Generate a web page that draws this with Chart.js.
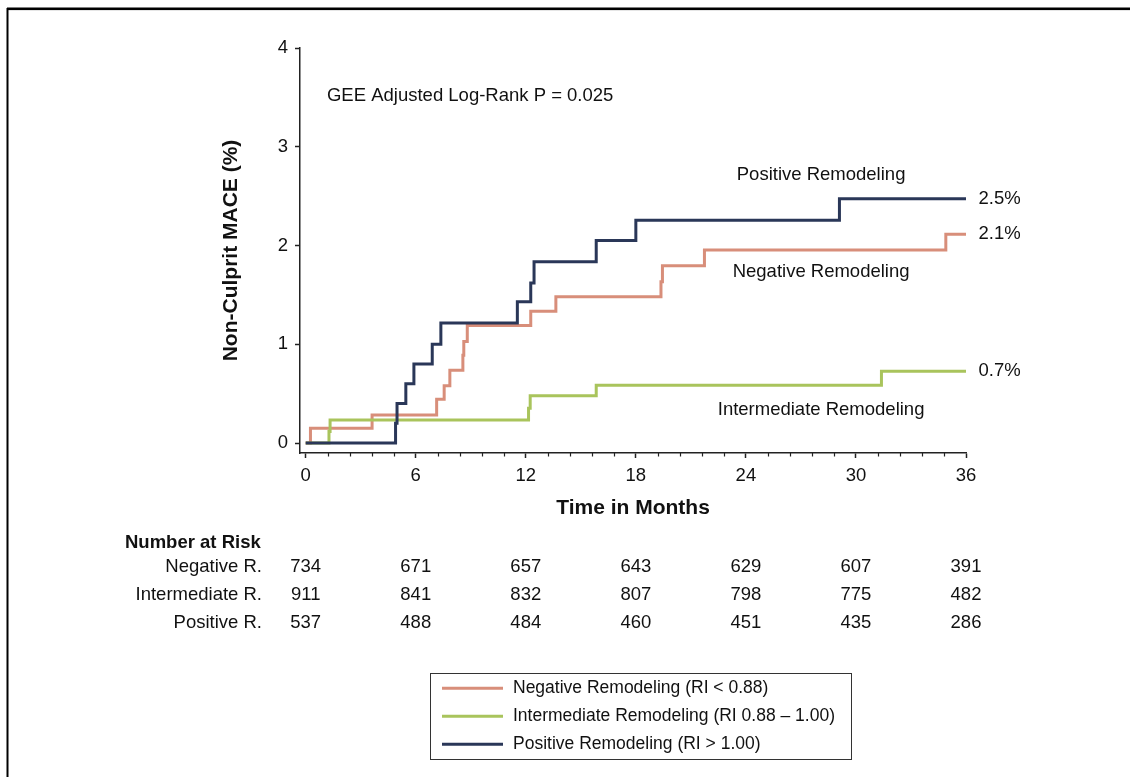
<!DOCTYPE html>
<html><head><meta charset="utf-8">
<script src="https://cdn.jsdelivr.net/npm/chart.js@4.4.1/dist/chart.umd.min.js"></script>
<style>html,body{margin:0;padding:0;background:#fff;}canvas{display:block;}</style>
</head><body>
<canvas id="c" width="1130" height="777"></canvas>
<script>
// ---- data ----
const negTimes  = [0, 0.26, 3.62, 7.14, 7.55, 7.86, 8.57, 8.62, 8.81, 12.27, 13.64, 19.37, 19.45, 21.74, 34.9, 36];
const negValues = [0, 0.15, 0.285, 0.443, 0.58, 0.738, 0.889, 1.03, 1.19, 1.336, 1.483, 1.634, 1.795, 1.954, 2.115, 2.115];
const intTimes  = [0, 1.27, 1.33, 12.15, 12.24, 15.84, 31.39, 36];
const intValues = [0, 0.117, 0.235, 0.352, 0.48, 0.587, 0.728, 0.728];
const posTimes  = [0, 4.9, 4.98, 5.46, 5.9, 6.9, 7.37, 11.54, 12.27, 12.45, 15.84, 18.0, 29.1, 36];
const posValues = [0, 0.2, 0.4, 0.6, 0.8, 1.0, 1.215, 1.43, 1.62, 1.835, 2.05, 2.255, 2.475, 2.475];

const seriesNames  = ['Negative Remodeling (RI < 0.88)', 'Intermediate Remodeling (RI 0.88 \u2013 1.00)', 'Positive Remodeling (RI > 1.00)'];
const curveLabels  = ['Negative Remodeling', 'Intermediate Remodeling', 'Positive Remodeling'];
const xTicks = [0, 6, 12, 18, 24, 30, 36];
const yTicks = [0, 1, 2, 3, 4];
const riskMonths = [0, 6, 12, 18, 24, 30, 36];
const riskRowLabels = ['Negative R.', 'Intermediate R.', 'Positive R.'];
const negRisk = [734, 671, 657, 643, 629, 607, 391];
const intRisk = [911, 841, 832, 807, 798, 775, 482];
const posRisk = [537, 488, 484, 460, 451, 435, 286];
const pText = 'GEE Adjusted Log-Rank P = 0.025';

// ---- styles ----
const FONT = '"Liberation Sans", Arial, Helvetica, sans-serif';
const COLORS = ['#d88e7a', '#a9c45c', '#2a3758'];
const INK = '#111';
const MINOR_STEP = 1.2;

function pts(t, v) { return t.map((tt, i) => ({x: tt, y: v[i]})); }
const seriesTimes = [negTimes, intTimes, posTimes];
const seriesValues = [negValues, intValues, posValues];
const riskRows = [negRisk, intRisk, posRisk];

// annotation anchors in data units
const curveLabelPos = [{x: 28.1, y: 1.733}, {x: 28.1, y: 0.336}, {x: 28.1, y: 2.72}];
const pTextPos = {x: 1.16, y: 3.51};

Chart.defaults.font.family = FONT;
Chart.defaults.font.size = 18.5;
Chart.defaults.color = INK;

const overlay = {
  id: 'overlay',
  afterDraw(chart) {
    const {ctx, chartArea, scales: {x, y}} = chart;
    ctx.save();
    // outer frame
    ctx.fillStyle = '#000';
    ctx.fillRect(7, 7.5, 1123, 2.6);
    ctx.fillRect(6.5, 8, 2, 769);
    // minor ticks
    ctx.strokeStyle = '#222'; ctx.lineWidth = 1.2;
    for (let k = 0; k * MINOR_STEP <= 36 + 1e-6; k++) {
      if (k % 5 === 0) continue;
      const px = Math.round(x.getPixelForValue(k * MINOR_STEP)) + 0.5;
      ctx.beginPath(); ctx.moveTo(px, chartArea.bottom); ctx.lineTo(px, chartArea.bottom + 3.5); ctx.stroke();
    }
    ctx.fillStyle = INK;
    ctx.font = '18.5px ' + FONT;
    ctx.textBaseline = 'middle';
    // p-value
    ctx.textAlign = 'left';
    ctx.fillText(pText, x.getPixelForValue(pTextPos.x), y.getPixelForValue(pTextPos.y));
    // curve names
    ctx.textAlign = 'center';
    curveLabels.forEach((t, i) => ctx.fillText(t, x.getPixelForValue(curveLabelPos[i].x), y.getPixelForValue(curveLabelPos[i].y)));
    // end percentages
    ctx.textAlign = 'left';
    seriesValues.forEach(v => {
      const last = v[v.length - 1];
      ctx.fillText(last.toFixed(1) + '%', x.getPixelForValue(36) + 12.5, y.getPixelForValue(last));
    });
    // number at risk table
    ctx.font = 'bold 18.5px ' + FONT;
    ctx.textAlign = 'left';
    ctx.fillText('Number at Risk', 125, 542.5);
    ctx.font = '18.5px ' + FONT;
    riskRows.forEach((row, r) => {
      const yy = 566.7 + r * 28.3;
      ctx.textAlign = 'right';
      ctx.fillText(riskRowLabels[r], 262, yy);
      ctx.textAlign = 'center';
      row.forEach((n, i) => ctx.fillText(String(n), x.getPixelForValue(riskMonths[i]), yy));
    });
    // legend box
    ctx.strokeStyle = '#333'; ctx.lineWidth = 1;
    ctx.strokeRect(430.5, 673.5, 421, 86);
    ctx.font = '17.5px ' + FONT;
    ctx.textAlign = 'left';
    seriesNames.forEach((name, i) => {
      const yy = 688.3 + i * 28;
      ctx.strokeStyle = COLORS[i]; ctx.lineWidth = 3;
      ctx.beginPath(); ctx.moveTo(442, yy); ctx.lineTo(503, yy); ctx.stroke();
      ctx.fillStyle = INK;
      ctx.fillText(name, 513, yy);
    });
    ctx.restore();
  }
};

new Chart(document.getElementById('c'), {
  type: 'line',
  data: {
    datasets: seriesNames.map((n, i) => ({
      label: n,
      data: pts(seriesTimes[i], seriesValues[i]),
      borderColor: COLORS[i],
      backgroundColor: COLORS[i],
      borderWidth: 3,
      stepped: 'before',
      pointRadius: 0,
      fill: false,
      order: 2 - i
    }))
  },
  options: {
    responsive: false,
    animation: false,
    parsing: true,
    layout: {padding: {left: 219, top: 48, right: 164, bottom: 256.4}},
    plugins: {legend: {display: false}, tooltip: {enabled: false}},
    scales: {
      x: {
        type: 'linear', min: -0.31, max: 36,
        afterBuildTicks: s => { s.ticks = xTicks.map(v => ({value: v})); },
        afterFit: s => { s.height = 67.6; },
        ticks: {padding: 7, autoSkip: false, maxRotation: 0, color: INK, font: {size: 18.5}, callback: v => String(v)},
        grid: {display: true, drawOnChartArea: false, drawTicks: true, tickLength: 5, tickColor: '#222', tickWidth: 1.5},
        border: {display: true, color: '#222', width: 1.5},
        title: {display: true, text: 'Time in Months', color: INK, font: {size: 21, weight: 'bold'}, padding: {top: 0, bottom: 0}}
      },
      y: {
        type: 'linear', min: -0.1, max: 4,
        afterBuildTicks: s => { s.ticks = yTicks.map(v => ({value: v})); },
        afterFit: s => { s.width = 81; },
        ticks: {padding: 7, autoSkip: false, color: INK, font: {size: 18.5}, callback: v => String(v)},
        grid: {display: true, drawOnChartArea: false, drawTicks: true, tickLength: 5, tickColor: '#222', tickWidth: 1.5},
        border: {display: true, color: '#222', width: 1.5},
        title: {display: true, text: 'Non-Culprit MACE (%)', color: INK, font: {size: 21, weight: 'bold'}, padding: {top: 0, bottom: 0}}
      }
    }
  },
  plugins: [overlay]
});
</script>
</body></html>
